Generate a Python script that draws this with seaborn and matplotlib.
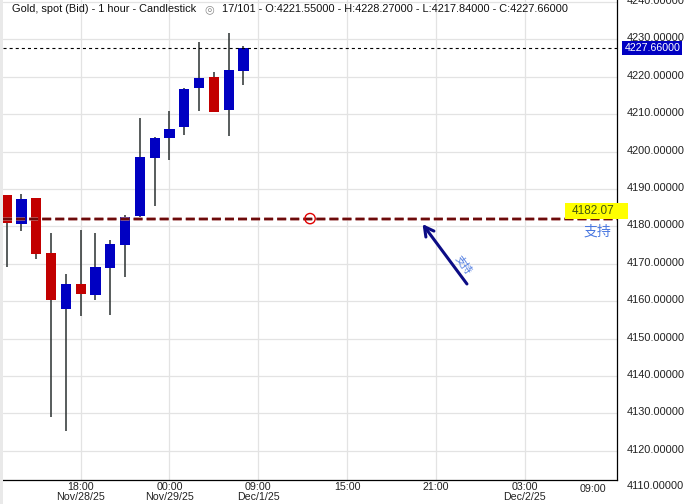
import numpy as np
import pandas as pd
import matplotlib
matplotlib.use("Agg")
import matplotlib.pyplot as plt
import matplotlib.transforms as mtransforms
from matplotlib.patches import Rectangle
import seaborn as sns

# ---------------- data ----------------
opens  = [4188.4, 4180.7, 4187.6, 4172.9, 4158.0, 4164.6, 4161.7, 4168.9, 4175.1,
          4182.8, 4198.3, 4203.7, 4206.6, 4217.1, 4219.9, 4211.2, 4221.55]
highs  = [4188.4, 4188.6, 4187.6, 4178.2, 4167.2, 4179.0, 4178.2, 4176.3, 4183.0,
          4208.9, 4203.9, 4210.8, 4217.0, 4229.3, 4221.2, 4231.7, 4228.27]
lows   = [4169.2, 4178.8, 4171.3, 4129.1, 4125.3, 4156.1, 4160.4, 4156.4, 4166.5,
          4182.6, 4185.5, 4197.8, 4204.5, 4210.9, 4210.6, 4204.2, 4217.84]
closes = [4181.0, 4187.3, 4172.7, 4160.4, 4164.6, 4162.0, 4169.1, 4175.3, 4182.4,
          4198.5, 4203.6, 4206.0, 4216.7, 4219.7, 4210.6, 4221.8, 4227.66]

y_ticks = [4120, 4130, 4140, 4150, 4160, 4170, 4180, 4190, 4200, 4210, 4220, 4230, 4240]
bottom_y_label = 4110
x_tick_pos = [5, 11, 17, 23, 29, 35]
x_tick_labels = ["18:00\nNov/28/25", "00:00\nNov/29/25", "09:00\nDec/1/25",
                 "15:00", "21:00", "03:00\nDec/2/25"]
last_tick_pos = 39.6
last_tick_label = "09:00"

support_level = 4182.07
support_text = "支持"
anchor_bar = 20.5
arrow_tail = (31.1, 4164.6)
arrow_head = (28.1, 4180.6)

title_left = "Gold, spot (Bid) - 1 hour - Candlestick"
title_right = "17/101 - O:4221.55000 - H:4228.27000 - L:4217.84000 - C:4227.66000"

# ---------------- style ----------------
sns.set_theme(style="white")
plt.rcParams['font.family'] = ['Liberation Sans', 'Noto Sans CJK SC', 'DejaVu Sans']
plt.rcParams['lines.scale_dashes'] = False

W, H = 687, 504
fig = plt.figure(figsize=(W / 100, H / 100), dpi=100)
fig.patch.set_facecolor("white")
fig.patches.append(Rectangle((0, 0), 3 / W, 1, transform=fig.transFigure,
                             facecolor="#e9e9e9", edgecolor="none", zorder=0))

ax = fig.add_axes([3 / W, 24 / H, 614.3 / W, 480 / H])
ax.set_facecolor("white")

df = pd.DataFrame(dict(open=opens, high=highs, low=lows, close=closes))
df["idx"] = np.arange(len(df))
df["up"] = df["close"] >= df["open"]
df["bottom"] = df[["open", "close"]].min(axis=1)
df["height"] = (df["close"] - df["open"]).abs()
colors = np.where(df["up"], "#0000c2", "#c20000")

# wicks
ax.vlines(df["idx"], df["low"], df["high"], color="#2a3030", lw=1.1, zorder=3)
# bodies
ax.bar(df["idx"], df["height"], bottom=df["bottom"], width=0.68,
       color=colors, edgecolor="none", zorder=4)

ax.set_xlim(-0.25, 41.26)
ax.set_ylim(4112.2, 4240.5)

# grid
ax.set_xticks(x_tick_pos)
ax.set_xticklabels(x_tick_labels)
ax.set_yticks(y_ticks)
ax.set_yticklabels([f"{v:.5f}" for v in y_ticks])
ax.grid(True, color="#e3e3e3", lw=0.9, zorder=0)
ax.set_axisbelow(True)

ax.yaxis.tick_right()
ax.tick_params(axis="y", length=0, pad=7.0, labelsize=7.9, labelcolor="#222222")
ax.tick_params(axis="x", length=0, pad=1.8, labelsize=7.7, labelcolor="#222222")
for lab in ax.get_xticklabels():
    lab.set_linespacing(0.95)
up_shift = mtransforms.ScaledTranslation(0, 2 / 100, fig.dpi_scale_trans)
for lab in ax.get_yticklabels():
    lab.set_transform(lab.get_transform() + up_shift)

for s in ["left", "top"]:
    ax.spines[s].set_visible(False)
for s in ["right", "bottom"]:
    ax.spines[s].set_color("black")
    ax.spines[s].set_linewidth(0.9)

# extra labels
blend_y = mtransforms.blended_transform_factory(ax.transAxes, ax.transData)
ax.text(1.0155, bottom_y_label, f"{bottom_y_label:.5f}", transform=blend_y + up_shift,
        ha="left", va="center", fontsize=7.9, color="#222222", clip_on=False)
blend_x = mtransforms.blended_transform_factory(ax.transData, ax.transAxes)
ax.text(last_tick_pos, -0.008, last_tick_label, transform=blend_x, ha="center", va="top",
        fontsize=7.7, color="#222222", clip_on=False)

# current price line and label
last_close = closes[-1]
ax.axhline(last_close, color="black", lw=0.8, dashes=(2.2, 2.2), zorder=5)
ax.text(1.0115, last_close, f"{last_close:.5f}", transform=blend_y, ha="left", va="center",
        fontsize=7.7, color="white", clip_on=False, zorder=10,
        bbox=dict(boxstyle="square,pad=0.2", fc="#0000c2", ec="none"))

# support line
ax.axhline(support_level, color="#b06a6a", lw=2.6, dashes=(6.5, 2.9), zorder=5, alpha=0.85)
ax.axhline(support_level, color="#6a0808", lw=1.4, dashes=(6.5, 2.9), zorder=6)
sns.scatterplot(x=[anchor_bar], y=[support_level], ax=ax, s=55, marker="o",
                facecolor="none", edgecolor="#e00000", linewidth=1.0, zorder=7)

# yellow price tag
ax.add_patch(Rectangle((37.72, support_level), 4.25, 4.2, facecolor="#ffff00",
                       edgecolor="none", clip_on=False, zorder=8))
ax.text(39.6, support_level + 2.15, f"{support_level:.2f}", ha="center", va="center",
        fontsize=8.5, color="#45560f", zorder=9, clip_on=False)
ax.text(39.95, 4178.6, support_text, ha="center", va="center", fontsize=10,
        color="#4a78e0", zorder=9, family=["Noto Sans CJK SC", "DejaVu Sans"])

# arrow + rotated text
ax.annotate("", xy=arrow_head, xytext=arrow_tail,
            arrowprops=dict(arrowstyle="->,head_length=0.55,head_width=0.3",
                            color="#0c0c85", lw=2.2, shrinkA=0, shrinkB=0), zorder=9)
ax.text(30.83, 4169.7, support_text, rotation=-54, rotation_mode="anchor",
        ha="center", va="center", fontsize=7.5, color="#4a78e0", zorder=9,
        family=["Noto Sans CJK SC", "DejaVu Sans"])

# title
fig.text(12 / W, 1 - 9 / H, title_left, ha="left", va="center", fontsize=7.9, color="#111111")
fig.text(209 / W, 1 - 9 / H, "◎", ha="center", va="center", fontsize=8, color="#888888",
         family=["DejaVu Sans"])
fig.text(222 / W, 1 - 9 / H, title_right, ha="left", va="center", fontsize=7.9, color="#111111")

fig.savefig("out.png", dpi=100, facecolor="white")
